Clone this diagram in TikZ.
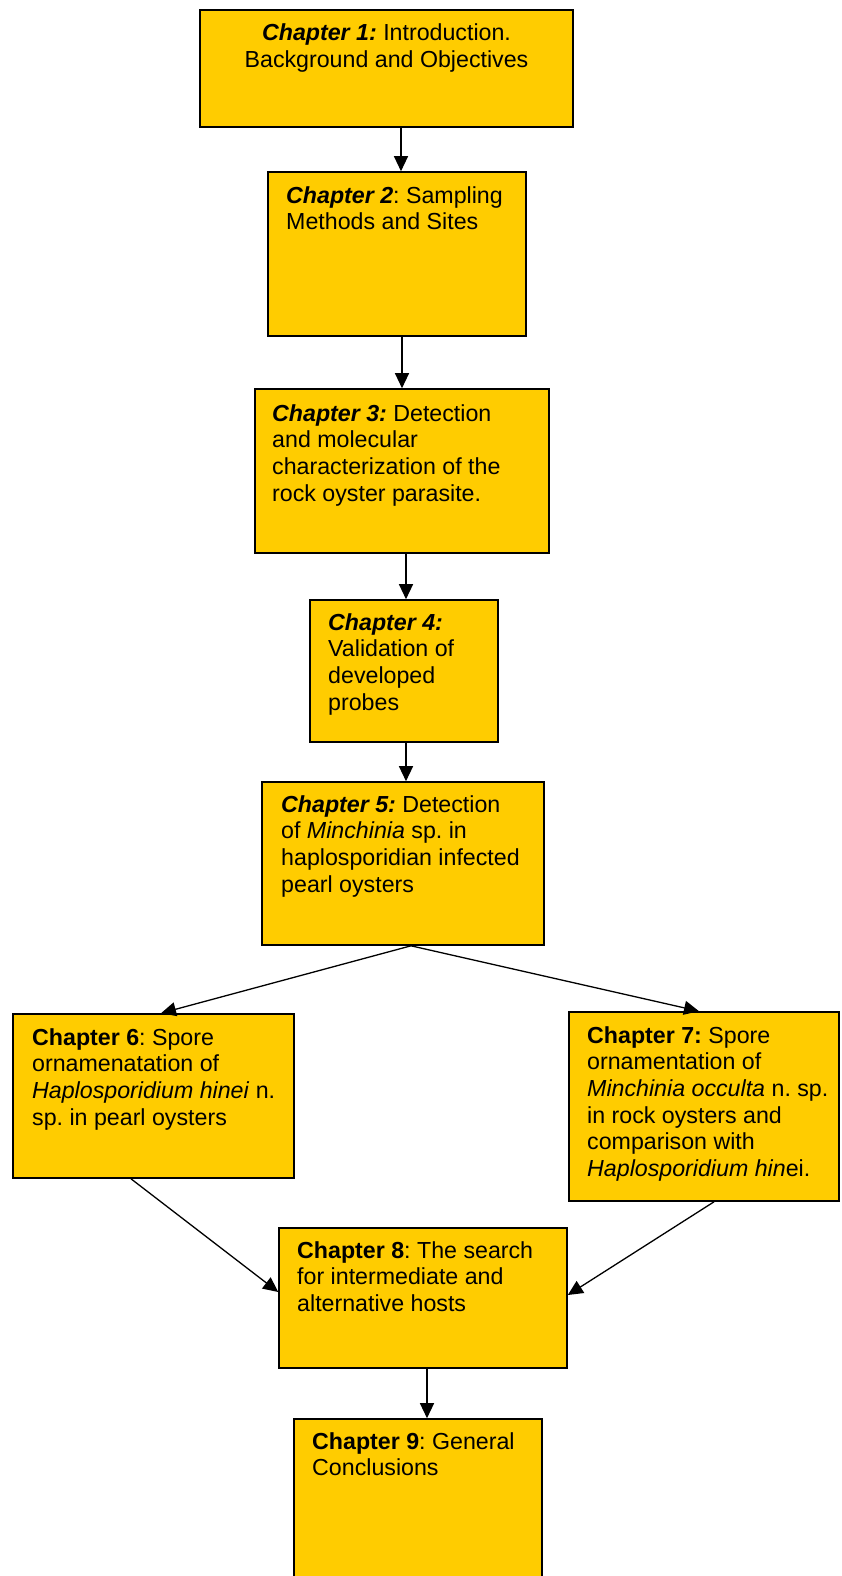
\documentclass[tikz,border=0pt]{standalone}
\usepackage{fontspec}
\setmainfont{Liberation Sans}
\usetikzlibrary{arrows.meta}
\definecolor{boxyellow}{HTML}{FFCC00}
\frenchspacing
\begin{document}
\begin{tikzpicture}[x=1pt,y=-1pt,
  chbox/.style={draw=black, line width=1.6pt, fill=boxyellow, rectangle, inner sep=0pt},
  chtext/.style={anchor=base west, align=left, inner sep=0pt, font=\fontsize{23.2pt}{26.7pt}\selectfont\frenchspacing},
  conn/.style={line width=1.3pt, -{Triangle[length=15pt,width=14pt]}}]
\useasboundingbox (0,0) rectangle (841,1576);
\clip (0,0) rectangle (841,1576);
\fill[white] (0,0) rectangle (841,1576);
% boxes
\node[chbox, minimum width=373pt, minimum height=117pt] (b1) at (386.5,68.5) {};
\node[chbox, minimum width=258pt, minimum height=164pt] (b2) at (397,254) {};
\node[chbox, minimum width=294pt, minimum height=164pt] (b3) at (402,471) {};
\node[chbox, minimum width=188pt, minimum height=142pt] (b4) at (404,671) {};
\node[chbox, minimum width=282pt, minimum height=163pt] (b5) at (403,863.5) {};
\node[chbox, minimum width=281pt, minimum height=164pt] (b6) at (153.5,1096) {};
\node[chbox, minimum width=270pt, minimum height=189pt] (b7) at (704,1106.5) {};
\node[chbox, minimum width=288pt, minimum height=140pt] (b8) at (423,1298) {};
\node[chbox, minimum width=248pt, minimum height=171pt] (b9) at (418,1504.5) {};
% texts (anchor base = baseline of the last line)
\node[chtext, anchor=base, align=center] (t1) at (386.5,67.7) {\textbf{\textit{Chapter 1:}} Introduction.\\Background and Objectives};
\node[chtext] (t2) at (286,229.7) {\textbf{\textit{Chapter 2}}: Sampling\\Methods and Sites};
\node[chtext] (t3) at (272,501.1) {\textbf{\textit{Chapter 3:}} Detection\\and molecular\\characterization of the\\rock oyster parasite.};
\node[chtext] (t4) at (328,710.1) {\textbf{\textit{Chapter 4:}}\\Validation of\\developed\\probes};
\node[chtext] (t5) at (281,892.1) {\textbf{\textit{Chapter 5:}} Detection\\of \textit{Minchinia} sp. in\\haplosporidian infected\\pearl oysters};
\node[chtext] (t6) at (32,1125.1) {\textbf{Chapter 6}: Spore\\ornamenatation of\\\textit{Haplosporidium hinei} n.\\sp. in pearl oysters};
\node[chtext] (t7) at (587,1176.5) {\textbf{Chapter 7:} Spore\\ornamentation of\\\textit{Minchinia occulta} n. sp.\\in rock oysters and\\comparison with\\\textit{Haplosporidium hin}ei.};
\node[chtext] (t8) at (297,1311.4) {\textbf{Chapter 8}: The search\\for intermediate and\\alternative hosts};
\node[chtext] (t9) at (312,1475.7) {\textbf{Chapter 9}: General\\Conclusions};
% connectors
\draw[conn] ([xshift=14.5pt]b1.south) -- ([xshift=4pt]b2.north);
\draw[conn] ([xshift=5pt]b2.south) -- (b3.north);
\draw[conn] ([xshift=4pt]b3.south) -- ([xshift=2pt]b4.north);
\draw[conn] ([xshift=2pt]b4.south) -- ([xshift=3pt]b5.north);
\coordinate (s5) at ([xshift=8pt]b5.south);
\draw[conn] (s5) -- ([xshift=7.5pt]b6.north);
\draw[conn] (s5) -- ([xshift=-5pt]b7.north);
\draw[conn] ([xshift=-22.5pt]b6.south) -- ([yshift=6pt]b8.west);
\draw[conn] ([xshift=10pt]b7.south) -- ([yshift=3pt]b8.east);
\draw[conn] ([xshift=4pt]b8.south) -- ([xshift=9pt]b9.north);
\end{tikzpicture}
\end{document}
